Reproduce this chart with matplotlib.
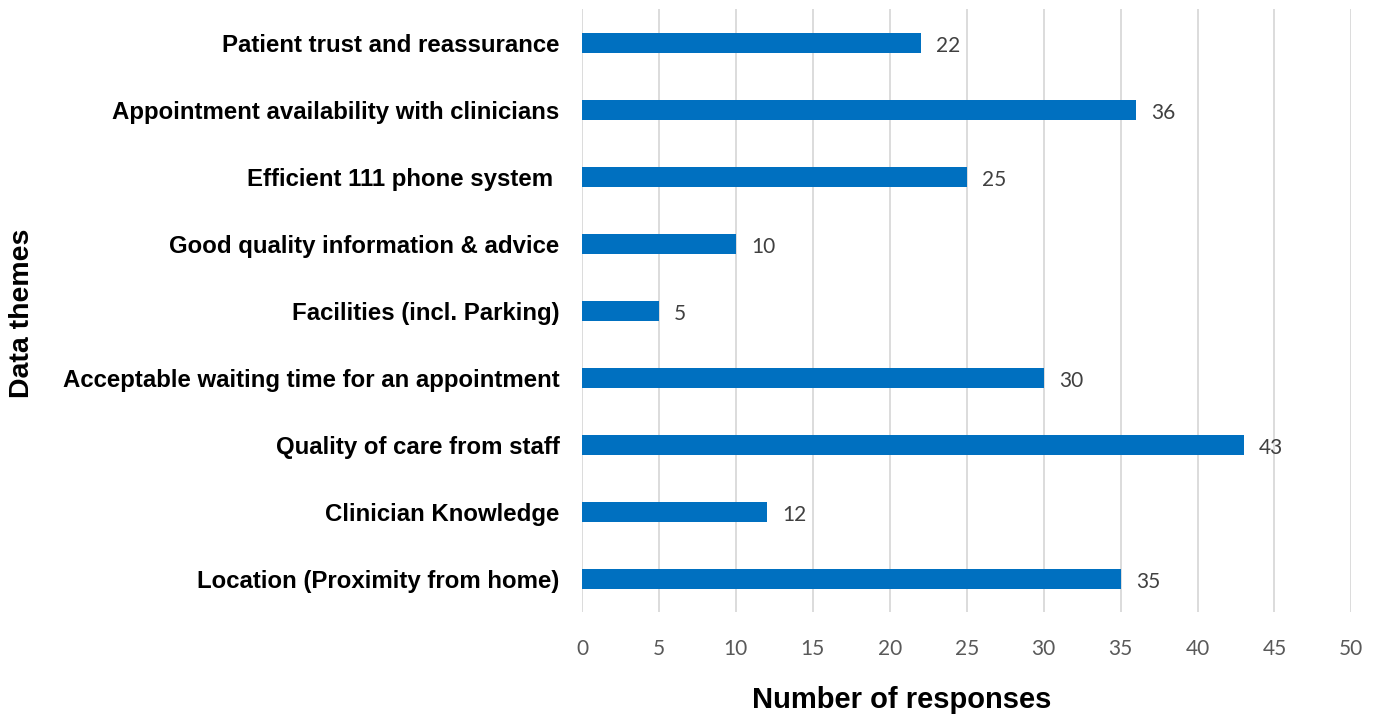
import matplotlib.pyplot as plt

plt.rcParams['font.family'] = ['Liberation Sans', 'DejaVu Sans']

themes = ['Location (Proximity from home)', 'Clinician Knowledge', 'Quality of care from staff',
          'Acceptable waiting time for an appointment', 'Facilities (incl. Parking)',
          'Good quality information & advice', 'Efficient 111 phone system ',
          'Appointment availability with clinicians', 'Patient trust and reassurance']
responses = [35, 12, 43, 30, 5, 10, 25, 36, 22]
xticks = [0, 5, 10, 15, 20, 25, 30, 35, 40, 45, 50]

fig = plt.figure(figsize=(13.79, 7.18), dpi=100)
ax = fig.add_axes([0.422, 0.147, 0.558, 0.840])

pos = range(len(themes))
ax.barh(pos, responses, height=0.3, color='#0070C0', zorder=3)
# value labels just right of each bar end
for y, v in zip(pos, responses):
    ax.text(v + 1.0, y - 0.04, str(v), va='center', ha='left', fontsize=15,
            color='#404040', family='Lato')

ax.set_xlim(0, 50)
ax.set_ylim(-0.5, 8.5)
ax.set_xticks(xticks)
ax.set_xticklabels([str(t) for t in xticks], family='Lato', fontsize=15, color='#595959')
ax.set_yticks(list(pos))
ax.set_yticklabels(themes, fontsize=17.3, fontweight='bold')
ax.tick_params(axis='both', length=0)
ax.tick_params(axis='x', pad=19)
ax.tick_params(axis='y', pad=16)
ax.grid(axis='x', color='#d9d9d9', linewidth=1.3, zorder=0)
for s in ax.spines.values():
    s.set_visible(False)

fig.text(0.654, 0.025, 'Number of responses', fontsize=21, fontweight='bold',
         va='center', ha='center')
fig.text(0.016, 0.564, 'Data themes', rotation=90, fontsize=20.5, fontweight='bold',
         va='center', ha='center')

fig.savefig('out.png', dpi=100)
